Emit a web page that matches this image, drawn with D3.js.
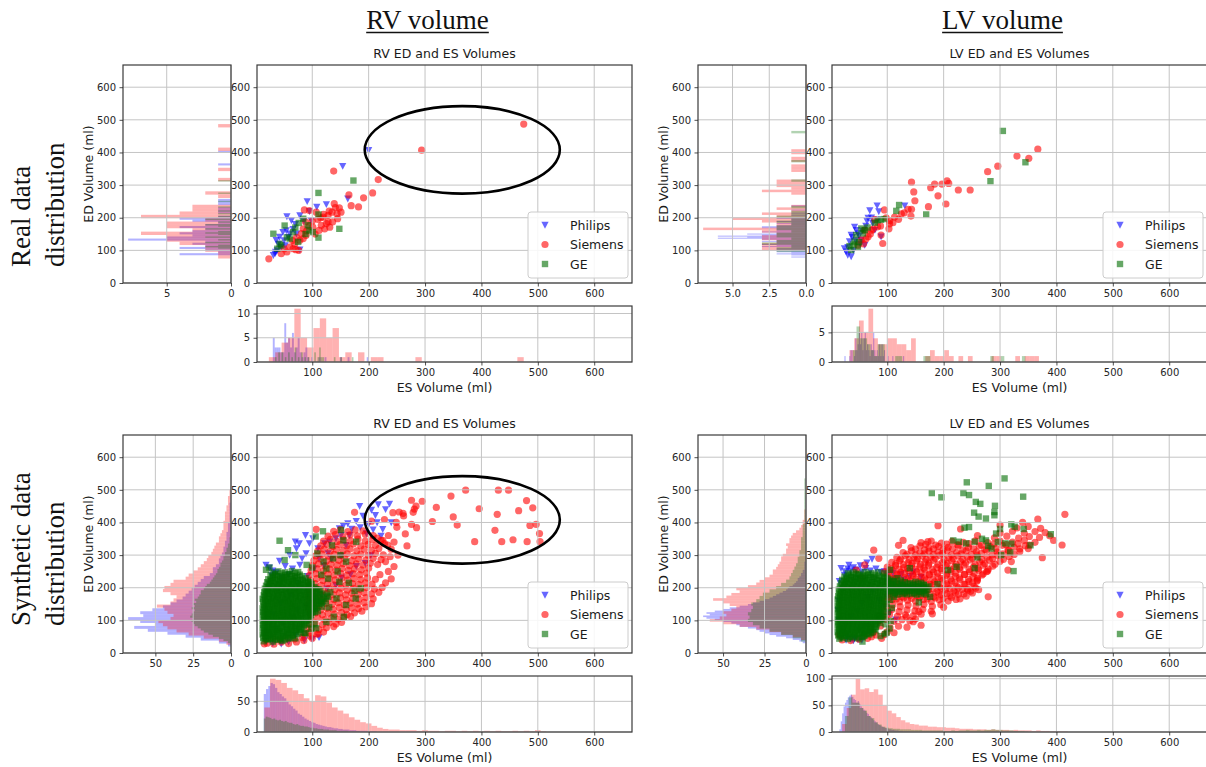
<!DOCTYPE html>
<html>
<head>
<meta charset="utf-8">
<script src="https://cdn.jsdelivr.net/npm/d3@7"></script>
<style>
  body { margin: 0; background: #fff; }
</style>
</head>
<body>
<script>

// ---------- data: scatter points [ES volume, ED volume] ----------

var rvRealPhilips = [[154,358],[125,241],[108,233],[91,250],[95,220],[78,207],[55,204],[163,258],[63,192],[54,161],[42,141],[36,131],[34,90],[31,85],[78,102],[60,151],[48,156],[200,407],[98,192],[72,151],[40,120],[45,110],[50,130],[58,140],[66,165],[70,180],[85,190],[35,95],[38,100],[52,115]]
var rvRealSiemens = [[138,343],[217,317],[207,276],[191,261],[165,270],[169,237],[182,233],[23,74],[45,90],[139,243],[141,231],[151,217],[144,212],[135,217],[128,207],[119,202],[128,187],[136,187],[145,197],[122,166],[112,161],[116,177],[107,217],[95,222],[86,224],[88,187],[84,166],[81,151],[78,131],[69,120],[66,105],[71,102],[76,100],[84,136],[89,146],[101,171],[131,171],[125,182],[294,407],[475,487],[120,210],[110,195],[100,190],[95,175],[60,110],[55,95],[50,105],[65,130],[72,140],[90,160],[105,150],[115,200],[130,220],[148,230]]
var rvRealGE = [[173,314],[111,276],[148,166],[111,139],[51,176],[31,151],[111,210],[76,184],[92,177],[66,156],[45,115],[38,105],[95,161],[60,136],[84,197],[101,156],[75,126],[55,140],[70,170],[88,150],[42,120]]

var lvRealPhilips = [[82,237],[69,222],[85,219],[131,237],[66,199],[74,183],[83,194],[45,162],[36,147],[48,152],[33,127],[54,132],[60,116],[24,106],[30,86],[36,81],[27,96],[42,172],[78,162],[89,142],[38,140],[44,130],[50,145],[56,160],[62,175],[30,110],[40,100],[52,120],[64,190],[72,200]]
var lvRealSiemens = [[367,410],[351,382],[330,389],[296,358],[278,341],[247,285],[226,285],[206,313],[209,305],[197,303],[184,303],[177,292],[190,267],[204,242],[173,234],[143,309],[147,279],[149,252],[143,226],[142,205],[137,226],[125,212],[113,202],[104,191],[103,166],[92,121],[95,224],[104,181],[89,147],[78,194],[72,162],[60,162],[83,172],[66,142],[54,132],[48,116],[98,200],[88,175],[70,150],[62,135],[110,185],[120,195],[130,215],[58,120],[75,165]]
var lvRealGE = [[305,466],[345,370],[283,312],[169,210],[121,239],[116,221],[89,194],[83,192],[60,162],[54,167],[45,147],[42,127],[33,113],[36,101],[48,111],[57,152],[50,125],[65,170],[40,118],[78,185],[95,196]]

var rvSynPhilips = [[237,457],[217,455],[184,450],[205,438],[212,422],[178,404],[163,397],[155,390],[148,382],[225,379],[222,359],[196,366],[166,361],[88,361],[70,341],[77,336],[95,336],[101,351],[89,305],[72,320],[24,261],[36,247],[86,40],[70,55],[30,30],[18,35],[151,361],[142,351],[131,341],[122,336],[200,395],[190,420],[230,440],[215,400],[160,330],[110,320],[60,300],[42,282],[52,266],[30,252],[18,270],[28,238],[45,232],[65,258],[82,290],[112,290],[128,305],[170,380],[185,385],[208,378],[240,400],[58,34],[45,28],[100,42],[112,48],[78,270],[58,240],
  [20,62],[36,74],[47,95],[63,108],[74,131],[89,143],[100,163],[116,176],[126,197],[142,207],[152,231],[168,241],[178,266],[194,275],[204,299],[31,118],[44,153],[61,177],[74,213],[92,235],[103,258],[121,268],[134,288],[151,297]]
var rvSynSiemens = [[20,30],[32,27],[45,33],[58,29],[72,34],[85,38],[18,44],[30,47],[42,42],[55,46],[68,43],[82,48],[96,52],[15,28],[100,45],[110,58],
  [85,58],[95,63],[108,59],[120,64],[90,74],[100,78],[112,72],[125,77],[138,81],[95,88],[105,92],[118,87],[130,93],[142,89],[152,94],
  [98,103],[110,108],[122,102],[134,107],[146,104],[156,109],[168,112],[96,118],[106,123],[118,117],[128,122],[140,119],[152,124],[162,118],[175,123],[188,128],
  [94,133],[104,138],[115,132],[126,137],[137,134],[148,139],[160,133],[170,138],[182,136],[195,141],[92,148],[102,153],[113,147],[124,152],[135,149],[146,154],[157,148],[168,153],[180,150],[192,155],[205,151],
  [95,163],[106,168],[117,162],[128,167],[139,164],[150,169],[161,163],[172,168],[183,165],[195,170],[208,166],[93,178],[104,183],[115,177],[126,182],[137,179],[148,184],[159,178],[170,183],[181,180],[192,185],[205,181],[218,186],
  [96,193],[107,198],[118,192],[129,197],[140,194],[151,199],[162,193],[173,198],[184,195],[196,200],[210,196],[224,201],[94,208],[105,213],[116,207],[127,212],[138,209],[149,214],[160,208],[171,213],[182,210],[194,215],[206,211],
  [97,223],[108,228],[119,222],[130,227],[141,224],[152,229],[163,223],[174,228],[186,225],[198,230],[212,226],[240,227],[95,238],[106,243],[117,237],[128,242],[139,239],[150,244],[161,238],[172,243],[184,240],[196,245],
  [98,253],[109,258],[120,252],[131,257],[142,254],[153,259],[164,253],[175,258],[187,255],[200,260],[100,268],[111,273],[122,267],[133,272],[144,269],[155,274],[166,268],[178,273],[190,270],[203,275],[216,271],
  [103,283],[114,288],[125,282],[136,287],[147,284],[158,289],[170,283],[182,288],[195,285],[208,290],[222,286],[106,298],[117,303],[128,297],[139,302],[150,299],[162,304],[174,298],[186,303],[199,300],[212,305],[226,301],
  [110,313],[121,318],[132,312],[143,317],[155,314],[167,319],[179,313],[192,318],[205,315],[218,320],[115,328],[126,333],[137,327],[149,332],[161,329],[173,334],[186,328],[199,333],[212,330],[228,335],
  [120,343],[132,348],[144,342],[156,347],[168,344],[181,349],[194,343],[207,348],[222,345],[128,358],[141,363],[154,357],[167,362],[180,359],[194,364],[208,360],[138,373],[150,378],[163,372],[176,377],[190,374],
  [372,499],[430,499],[448,499],[346,481],[276,468],[295,465],[480,467],[284,450],[281,441],[320,446],[279,431],[396,442],[466,436],[491,445],[428,425],[350,417],[254,432],[261,428],[243,430],[228,409],[249,400],[276,394],[285,384],[313,403],[357,392],[486,391],[497,394],[503,366],[424,376],[388,341],[436,341],[456,347],[481,341],[504,341],[268,328],[234,331],[205,404],[175,431],[107,379],[238,295],[262,420],[250,385],[235,360],[225,345],[265,365],[240,318],[215,352],[245,340],[252,300],[230,280],[245,265],[235,250],[230,215],[220,240]]
var rvSynGE = [[14,36],[21,41],[30,35],[39,40],[47,37],[13,47],[19,51],[27,45],[35,50],[44,46],[53,52],[61,47],
  [12,57],[18,61],[25,55],[33,59],[41,62],[49,56],[58,60],[66,55],[74,59],[14,66],[20,70],[28,65],[36,71],[43,67],[51,64],[60,70],[68,66],[77,71],
  [12,77],[19,80],[26,75],[34,79],[42,76],[50,81],[57,74],[65,79],[73,77],[82,80],[13,86],[21,90],[29,85],[37,89],[45,92],[53,86],[61,90],[70,84],[78,89],[86,87],
  [12,97],[18,100],[26,95],[33,99],[41,102],[49,96],[57,100],[64,95],[72,101],[80,97],[89,99],[14,106],[21,110],[28,105],[36,109],[44,112],[52,106],[60,110],[67,104],[75,109],[83,107],[92,111],
  [12,117],[19,120],[27,115],[35,119],[42,122],[50,116],[58,121],[66,114],[74,119],[81,117],[90,121],[98,116],[13,126],[20,130],[28,125],[37,129],[45,132],[52,126],[60,130],[68,124],[76,129],[85,127],[93,131],[101,125],
  [12,137],[18,140],[26,135],[34,139],[42,142],[51,136],[59,140],[66,134],[74,139],[83,137],[91,141],[99,135],[108,139],[14,146],[21,150],[29,145],[37,149],[45,152],[53,146],[61,150],[69,144],[77,149],[86,147],[94,151],[103,145],[112,150],
  [13,157],[19,160],[27,155],[35,159],[43,162],[51,156],[58,160],[66,154],[75,159],[83,157],[91,161],[100,155],[109,160],[118,156],[12,166],[20,170],[28,165],[36,169],[44,172],[52,166],[60,170],[68,164],[76,169],[84,167],[93,171],[101,165],[110,170],[121,166],
  [14,177],[22,180],[30,175],[38,179],[46,182],[54,176],[62,180],[70,174],[78,179],[87,177],[95,181],[104,175],[113,180],[126,176],[15,186],[21,190],[29,185],[37,189],[45,192],[53,186],[61,190],[69,184],[77,189],[85,187],[94,191],[102,185],[114,190],[132,186],
  [16,197],[23,200],[31,195],[39,199],[47,202],[55,196],[63,200],[71,194],[79,199],[88,197],[96,201],[107,195],[18,206],[25,210],[33,205],[41,209],[49,212],[57,206],[65,210],[73,204],[81,209],[90,207],[99,211],
  [20,217],[27,220],[35,215],[43,219],[51,222],[59,216],[67,220],[75,214],[84,219],[93,217],[22,226],[30,230],[38,225],[46,229],[54,232],[62,226],[70,230],[79,224],[88,229],
  [26,237],[34,240],[43,235],[51,239],[60,242],[69,236],[78,240],[30,246],[40,250],[52,247],[64,251],[75,248],
  [42,344],[57,315],[51,285],[24,262],[18,255],[119,373],[106,357],[151,377],[178,341],[137,290],[109,305],[177,167],[156,111],[138,111],[107,76],[96,88],[143,167],[160,147],[148,218],[125,259],[120,280],[90,270],[70,300],[135,330],[160,280],[145,250],[175,190],[130,140],[125,95],[88,60],[70,45],[155,345],[116,240],[165,215],[186,198],[150,300],[100,262],[128,228]]
var rvSynGECore = [[17,43],[25,44],[34,42],[43,44],[51,41],[58,44],[16,53],[23,55],[31,52],[39,54],[48,51],[57,55],[65,52],
  [15,62],[22,64],[30,61],[38,65],[46,60],[55,63],[63,62],[71,65],[79,63],[16,72],[24,74],[31,70],[39,73],[47,75],[55,71],[63,74],[71,72],[80,75],
  [15,82],[23,84],[30,81],[38,85],[46,80],[54,83],[62,82],[69,85],[77,81],[85,84],[16,93],[24,95],[32,91],[40,94],[48,96],[56,92],[65,94],[73,91],[82,95],[90,92],
  [15,102],[22,104],[30,101],[37,105],[45,100],[53,103],[61,102],[68,105],[76,101],[85,104],[95,102],[16,113],[24,115],[32,111],[40,114],[48,116],[56,112],[64,115],[71,111],[79,114],[88,116],[96,112],
  [15,122],[23,124],[31,121],[39,125],[47,120],[55,123],[63,122],[71,125],[79,121],[88,124],[97,122],[105,125],[16,133],[24,135],[32,131],[41,134],[48,136],[56,132],[64,135],[72,131],[80,134],[89,136],[97,132],[105,135],
  [15,142],[22,144],[30,141],[38,145],[47,140],[55,143],[63,142],[70,145],[79,141],[88,144],[96,142],[107,145],[17,153],[25,155],[33,151],[41,154],[49,156],[57,152],[65,155],[73,151],[81,154],[90,156],[98,152],[107,155],[116,152],
  [16,162],[23,164],[31,161],[39,165],[47,160],[55,163],[62,162],[71,165],[79,161],[87,164],[96,162],[105,165],[114,161],[16,173],[24,175],[32,171],[40,174],[48,176],[56,172],[64,175],[72,171],[80,174],[89,176],[97,172],[107,175],[117,171],
  [18,182],[25,184],[33,181],[41,185],[49,180],[57,183],[65,182],[73,185],[81,181],[90,184],[98,182],[108,185],[120,182],[19,193],[27,195],[35,191],[43,194],[51,196],[59,192],[67,195],[75,191],[83,194],[92,196],[101,192],[111,195],
  [21,202],[29,204],[37,201],[45,205],[53,200],[61,203],[69,202],[77,205],[85,201],[94,204],[104,202],[23,213],[31,215],[39,211],[47,214],[55,216],[63,212],[71,215],[79,211],[88,214],[97,216],
  [26,222],[34,224],[42,221],[50,225],[58,220],[66,223],[74,222],[83,225],[92,221],[30,233],[38,235],[47,231],[55,234],[64,236],[73,232],[82,235],[35,242],[46,244],[58,241],[70,245],
  [110,128],[118,142],[104,88],[98,74],[86,62],[124,160],[128,172]]

var lvSynPhilips = [[24,239],[64,277],[73,288],[20,193],[18,45],[27,40],[36,42],[146,249],[30,60],[40,38],[48,41],[22,70],[14,100],[13,130],[14,160],[25,250],[35,252],[45,255],[55,249],[15,220],[62,260],[80,258],[95,250],[110,246],[125,242],[140,235],[160,232],[40,262],[52,268],[30,258],[70,252],[88,248],[100,240],[18,260],[32,270],[115,230],[130,225],
  [25,90],[36,112],[47,128],[55,152],[66,171],[74,188],[86,161],[95,142],[104,121],[115,102],[60,82],[70,62],[50,70],[100,172],[55,40],[42,45],[30,48]]
var lvSynSiemens = [[20,40],[35,38],[50,42],[65,45],[80,55],[15,55],[100,65],[90,45],
  [60,58],[75,63],[95,57],[112,62],[70,78],[88,83],[105,77],[120,82],[135,79],[85,98],[98,103],[112,97],[126,102],[140,99],[150,104],[92,113],[104,118],[118,112],[132,117],[146,114],[160,119],
  [95,128],[108,133],[121,127],[135,132],[149,129],[163,134],[178,128],[98,143],[110,148],[123,142],[137,147],[151,144],[165,149],[180,143],[195,148],
  [96,158],[109,163],[122,157],[136,162],[150,159],[164,164],[178,158],[192,163],[208,159],[222,164],[100,173],[113,178],[126,172],[140,177],[154,174],[168,179],[182,173],[196,178],[211,175],[226,180],[240,174],
  [104,188],[117,193],[131,187],[145,192],[159,189],[173,194],[188,188],[203,193],[218,190],[233,195],[248,189],[262,194],[108,203],[121,208],[135,202],[149,207],[163,204],[178,209],[193,203],[208,208],[223,205],[238,210],[254,204],
  [100,218],[113,223],[127,217],[141,222],[155,219],[169,224],[184,218],[199,223],[214,220],[229,225],[245,219],[260,224],[105,233],[118,238],[132,232],[146,237],[160,234],[175,239],[190,233],[205,238],[221,235],[237,240],[252,234],[268,239],
  [95,248],[110,253],[124,247],[138,252],[152,249],[167,254],[182,248],[197,253],[213,250],[229,255],[246,249],[262,254],[278,251],[100,263],[115,268],[129,262],[143,267],[158,264],[173,269],[188,263],[204,268],[220,265],[236,270],[253,264],[270,269],[287,266],
  [108,278],[122,283],[137,277],[152,282],[167,279],[182,284],[198,278],[214,283],[230,280],[247,285],[264,279],[281,284],[300,281],[117,293],[132,298],[147,292],[162,297],[177,294],[193,299],[209,293],[225,298],[242,295],[259,300],[277,294],[296,299],[316,296],
  [128,308],[143,313],[158,307],[174,312],[190,309],[206,314],[223,308],[240,313],[258,310],[276,315],[295,309],[315,314],[335,311],[142,323],[158,328],[174,322],[191,327],[208,324],[226,329],[244,323],[263,328],[283,325],[304,330],[325,324],[345,329],
  [160,338],[178,343],[196,337],[215,342],[235,339],[256,344],[278,338],[300,343],[322,340],[343,345],[362,339],[290,353],[312,358],[333,352],[352,357],[370,354],[388,359],[300,368],[322,373],[343,367],[362,372],[380,369],[330,383],[350,388],[372,382],
  [415,425],[410,331],[375,292],[367,410],[314,254],[279,172],[276,249],[259,221],[243,193],[190,390],[172,341],[76,315],[45,254],[72,50],[146,96],[156,127],[134,111],[128,345],[300,392],[340,400],[320,280],[350,320],[395,345],[60,270],[85,290],[55,230],[120,330],[230,380],[260,360],[160,85],[180,120],[200,140]]
var lvSynSiemensCore = [[103,168],[116,166],[129,169],[143,167],[157,170],[171,166],[185,169],[199,167],[214,170],[229,166],
  [107,183],[120,181],[134,184],[148,182],[162,185],[176,181],[191,184],[206,182],[221,185],[236,181],[251,184],
  [111,198],[124,196],[138,199],[152,197],[166,200],[181,196],[196,199],[211,197],[226,200],[242,196],[257,199],
  [106,213],[119,211],[133,214],[147,212],[161,215],[175,211],[190,214],[205,212],[220,215],[236,211],[251,214],
  [110,228],[123,226],[137,229],[151,227],[166,230],[181,226],[196,229],[212,227],[228,230],[244,226],[260,229],
  [102,243],[117,241],[131,244],[145,242],[160,245],[174,241],[189,244],[205,242],[221,245],[237,241],[254,244],[270,242],
  [107,258],[121,256],[136,259],[150,257],[165,260],[180,256],[196,259],[212,257],[228,260],[245,256],[261,259],[279,257],
  [115,273],[129,271],[144,274],[159,272],[174,275],[190,271],[206,274],[222,272],[239,275],[256,271],[273,274],[291,272],
  [124,288],[139,286],[154,289],[169,287],[185,290],[201,286],[217,289],[234,287],[251,290],[268,286],[287,289],[306,287],
  [135,303],[150,301],[166,304],[182,302],[198,305],[214,301],[231,304],[249,302],[267,305],[286,301],[305,304],[325,302],
  [150,318],[166,316],[182,319],[199,317],[216,320],[234,316],[253,319],[273,317],[293,320],[314,316],[335,319],
  [168,333],[186,331],[205,334],[225,332],[245,335],[267,331],[289,334],[311,332],[332,335],[352,331]]
var lvSynGE = [[15,44],[22,47],[30,43],[38,48],[47,45],[56,49],[13,54],[20,57],[27,53],[35,58],[43,55],[51,59],[60,54],[68,57],
  [12,64],[19,67],[26,63],[34,68],[42,65],[50,69],[58,63],[66,67],[74,64],[14,74],[21,77],[28,73],[36,78],[44,75],[52,79],[60,73],[68,77],[77,74],
  [12,84],[19,87],[26,83],[33,88],[41,85],[49,89],[57,83],[65,87],[73,84],[81,88],[13,94],[20,97],[28,93],[35,98],[43,95],[51,99],[59,93],[67,97],[75,94],[84,98],
  [12,104],[18,107],[26,103],[33,108],[41,105],[49,109],[57,103],[65,107],[73,104],[82,108],[90,105],[14,114],[21,117],[28,113],[36,118],[44,115],[52,119],[60,113],[68,117],[76,114],[85,118],[93,115],
  [12,124],[19,127],[27,123],[34,128],[42,125],[50,129],[58,123],[66,127],[74,124],[83,128],[91,125],[13,134],[20,137],[28,133],[36,138],[44,135],[52,139],[60,133],[68,137],[76,134],[85,138],[94,135],
  [12,144],[19,147],[27,143],[35,148],[43,145],[51,149],[59,143],[67,147],[75,144],[84,148],[92,145],[14,154],[21,157],[29,153],[37,158],[45,155],[53,159],[61,153],[69,157],[77,154],[86,158],[95,155],
  [12,164],[20,167],[28,163],[36,168],[44,165],[52,169],[60,163],[68,167],[76,164],[85,168],[94,165],[13,174],[21,177],[29,173],[37,178],[45,175],[53,179],[61,173],[69,177],[78,174],[87,178],[96,175],
  [15,184],[22,187],[30,183],[38,188],[46,185],[54,189],[62,183],[70,187],[79,184],[88,188],[97,185],[106,189],[114,184],[122,188],[131,185],[139,189],[148,184],[156,188],[165,185],
  [14,194],[22,197],[30,193],[38,198],[46,195],[54,199],[62,193],[70,197],[79,194],[88,198],[98,195],[108,199],[117,193],[126,197],[135,194],[144,198],[153,195],[162,199],[171,194],
  [16,204],[24,207],[32,203],[40,208],[48,205],[56,209],[64,203],[72,207],[81,204],[90,208],[100,205],[110,209],[119,203],[128,207],[137,204],[146,208],[155,205],[164,209],[173,204],
  [18,214],[26,217],[34,213],[42,218],[50,215],[58,219],[66,213],[74,217],[83,214],[92,218],[102,215],[112,219],[122,213],[131,217],[140,214],[150,218],[160,215],
  [20,224],[28,227],[36,223],[44,228],[52,225],[60,229],[68,223],[77,227],[86,224],[96,228],[106,225],[118,229],[24,234],[32,237],[40,233],[48,238],[57,235],[66,239],[75,233],[85,237],[95,234],
  [30,244],[40,247],[50,243],[61,248],[72,245],[84,247],
  [308,535],[241,523],[280,512],[179,490],[196,477],[235,490],[245,484],[341,479],[257,463],[265,457],[291,451],[254,430],[262,418],[275,412],[290,422],[237,384],[245,386],[320,394],[342,380],[326,387],[390,364],[217,345],[227,341],[240,336],[255,341],[275,345],[296,340],[279,328],[309,336],[320,335],[354,330],[293,366],[285,320],[302,300],[318,308],[260,293],[255,260],[324,251],[208,254],[223,264],[83,116],[56,35],[95,244],[290,432],[300,380],[268,350],[189,211],[156,155],[176,172],[140,260],[105,255]]
var lvSynGECore = [[17,50],[25,52],[33,49],[41,51],[50,50],[59,52],[16,60],[23,62],[31,59],[39,61],[47,60],[55,62],[63,59],[71,61],
  [15,70],[22,72],[30,69],[38,71],[46,70],[54,72],[62,69],[70,71],[79,70],[16,80],[24,82],[31,79],[39,81],[47,80],[55,82],[63,79],[71,81],[80,80],
  [15,90],[23,92],[30,89],[38,91],[46,90],[54,92],[62,89],[70,91],[78,90],[87,92],[16,100],[24,102],[31,99],[39,101],[47,100],[55,102],[63,99],[71,101],[79,100],[88,102],
  [15,110],[22,112],[30,109],[37,111],[45,110],[53,112],[61,109],[69,111],[78,110],[87,112],[95,110],[16,120],[24,122],[32,119],[40,121],[48,120],[56,122],[64,119],[72,121],[80,120],[89,122],
  [15,130],[23,132],[31,129],[38,131],[46,130],[54,132],[62,129],[70,131],[79,130],[88,132],[16,140],[24,142],[32,139],[40,141],[48,140],[56,142],[64,139],[72,141],[81,140],[90,142],
  [15,150],[23,152],[31,149],[39,151],[47,150],[55,152],[63,149],[71,151],[80,150],[89,152],[17,160],[25,162],[33,159],[41,161],[49,160],[57,162],[65,159],[73,161],[82,160],[91,162],
  [16,170],[24,172],[32,169],[40,171],[48,170],[56,172],[64,169],[72,171],[81,170],[90,172],
  [17,180],[25,182],[33,179],[41,181],[49,180],[57,182],[65,179],[74,181],[83,180],[92,182],[101,180],[110,182],[118,179],[127,181],[135,180],[144,182],[152,179],[160,181],[169,180],
  [18,190],[26,192],[34,189],[42,191],[50,190],[58,192],[66,189],[75,191],[84,190],[93,192],[103,190],[112,192],[121,189],[130,191],[140,190],[149,192],[158,189],[167,191],
  [20,200],[28,202],[36,199],[44,201],[52,200],[60,202],[68,199],[77,201],[86,200],[95,202],[105,200],[115,202],[124,199],[133,201],[142,200],[151,202],[160,199],[169,201],
  [22,210],[30,212],[38,209],[46,211],[54,210],[62,212],[70,209],[79,211],[88,210],[97,212],[107,210],[117,212],[126,209],[136,211],[145,210],[155,212],[165,209],
  [24,220],[32,222],[40,219],[48,221],[56,220],[64,222],[73,219],[82,221],[91,220],[101,222],[111,220],[124,222],[28,230],[36,232],[44,229],[52,231],[61,230],[70,232],[80,229],[90,231],[100,230],
  [35,240],[45,242],[56,239],[67,241],[78,240],
  [99,62],[104,75],[97,88],[106,98],[101,126],[108,138],[99,150],[105,163],[112,172],[96,58],[88,52]]

// ---------- data: histograms (first bin start, bin width, counts) ----------

var rvRealEdPhilips = { start: 85, width: 6.4, counts: [4,1,2,4,2,3,2,8,5,3, 4,3,2,4,2,1,3,4,1,0, 1,1,1,0,1,1,1,0,0,0, 0,0,0,0,0,0,0,0,0,0, 0,0,0,1,0,0,0,0,0,1] }
var rvRealEdSiemens = { start: 75, width: 10.3, counts: [1,1,2,2,4,5,5,7,3,5, 5,2,7,4,3,3,0,0,1,2, 0,0,0,1,0,0,1,0,0,0, 0,0,1,0,0,0,0,0,0,1] }
var rvRealEdGE = { start: 105, width: 4.2, counts: [1,2,1,0,2,0,1,0,2,0, 1,2,1,0,2,0,1,2,0,1, 0,2,0,1,0,1,0,1,0,0, 1,0,0,0,1,0,0,0,0,0, 1,0,0,0,0,0,0,0,0,1] }
var rvRealEsPhilips = { start: 30, width: 3.4, counts: [5,3,3,3,2,2,8,4,5,3, 6,2,3,5,2,1,2,3,1,0, 1,0,0,0,1,0,0,1,0,0, 0,0,0,0,0,1,0,0,0,1, 0,0,0,0,0,0,0,0,0,1] }
var rvRealEsSiemens = { start: 23, width: 11.3, counts: [1,2,4,5,11,5,3,7,9,5, 7,1,2,0,2,0,1,1,0,0, 0,0,0,1,0,0,0,0,0,0, 0,0,0,0,0,0,0,0,0,1] }
var rvRealEsGE = { start: 31, width: 2.9, counts: [0,1,0,2,0,2,0,1,0,2, 0,1,0,3,0,1,0,2,0,1, 0,1,0,0,0,2,0,1,3,1, 1,0,0,0,0,0,0,1,0,0, 0,1,0,0,0,0,0,0,1,0] }

var lvRealEdPhilips = { start: 78, width: 3.2, counts: [1,0,1,2,1,2,1,2,2,1, 3,2,3,2,2,3,2,3,6,4, 6,3,4,2,3,2,2,2,3,3, 2,1,2,1,2,1,1,2,1,0, 1,0,1,0,0,1,0,0,0,1] }
var lvRealEdSiemens = { start: 100, width: 7.75, counts: [3,3,3,2,3,3,2,3,7,2, 2,3,5,2,3,1,2,1,0,0, 0,0,1,3,1,2,2,2,0,0, 0,1,1,1,0,1,1,0,1,1] }
var lvRealEdGE = { start: 95, width: 7.42, counts: [2,2,1,3,2,1,2,2,1,2, 2,1,2,1,2,1,1,0,1,0, 0,0,0,0,0,0,0,0,0,1, 0,0,0,0,0,0,0,1,0,0, 0,0,0,0,0,0,0,0,0,1] }
var lvRealEsPhilips = { start: 24, width: 2.12, counts: [1,0,0,0,1,2,2,0,1,4, 2,3,5,3,5,2,4,5,2,3, 2,1,3,2,5,2,1,2,1,3, 1,3,1,2,0,0,1,0,0,0, 1,0,0,0,0,0,0,0,0,1] }
var lvRealEsSiemens = { start: 33, width: 8.4, counts: [2,4,7,5,9,4,3,3,4,4, 3,3,2,4,0,0,1,2,1,1, 2,1,0,1,0,1,0,0,0,0, 1,1,0,0,0,1,0,1,1,1] }
var lvRealEsGE = { start: 33, width: 6.24, counts: [0,2,6,4,4,3,2,1,3,3, 0,0,0,1,1,0,0,0,0,0, 0,1,1,0,0,0,0,0,0,0, 0,0,0,0,0,0,0,0,0,0, 1,0,0,1,0,0,0,0,0,1] }

var rvSynEdPhilips = { start: 20, width: 9, counts: [2,8,20,30,42,55,64,50,60,68, 58,60,52,45,40,36,32,30,28,26, 24,22,20,18,14,12,12,10,8,8, 7,6,5,5,4,4,3,3,3,2, 2,2,1,1,1,1,1,1,1,0] }
var rvSynEdSiemens = { start: 25, width: 9.5, counts: [3,8,18,28,36,42,45,48,40,38, 42,44,49,40,38,36,40,45,44,40, 38,30,28,25,22,20,18,16,15,13, 12,11,10,8,8,7,6,5,5,5, 4,4,4,3,3,2,2,2,1,1] }
var rvSynEdGE = { start: 30, width: 6.5, counts: [2,5,8,12,15,18,20,22,24,25, 26,25,27,26,25,24,26,24,25,23, 24,22,21,20,20,18,17,16,14,13, 12,11,10,9,9,8,7,7,6,5, 5,4,4,3,3,2,2,1,1,1] }
var rvSynEsPhilips = { start: 14, width: 4, counts: [62,70,75,80,78,72,65,62,58,55, 50,45,42,38,35,30,28,25,22,20, 18,16,15,13,12,11,10,9,8,8, 7,6,6,5,5,4,4,4,3,3, 3,2,2,2,2,2,1,1,1,1] }
var rvSynEsSiemens = { start: 15, width: 10, counts: [40,87,85,80,72,68,62,55,50,60, 58,48,40,35,30,24,20,16,14,10, 7,5,4,4,3,3,3,2,3,2, 2,1,2,2,1,2,1,2,1,2, 1,2,1,1,2,1,2,1,3,1] }
var rvSynEsGE = { start: 14, width: 3.4, counts: [22,25,24,23,21,22,20,19,20,18, 17,18,16,15,15,13,12,13,11,10, 10,9,9,8,7,7,6,6,5,5, 5,4,4,4,3,3,3,3,2,2, 2,2,2,2,1,1,1,1,1,1] }

var lvSynEdPhilips = { start: 30, width: 5, counts: [2,4,8,12,18,22,25,28,30,35, 40,42,45,50,55,60,62,58,60,55, 50,46,40,35,32,28,25,22,20,18, 16,14,12,11,10,8,7,6,5,5, 4,3,3,2,2,1,1,1,1,1] }
var lvSynEdSiemens = { start: 40, width: 8, counts: [3,8,15,22,30,40,50,58,52,48, 50,45,42,46,50,56,48,45,40,42, 35,30,28,25,22,20,20,18,17,16, 15,15,14,12,12,11,12,10,10,9, 8,6,4,3,2,2,1,1,1,1] }
var lvSynEdGE = { start: 35, width: 10, counts: [3,8,15,22,28,32,35,34,35,33, 32,33,30,28,26,22,18,15,12,10, 9,8,7,6,5,5,4,4,3,3, 3,3,2,2,2,2,1,1,1,1, 1,1,1,1,1,1,1,1,1,1] }
var lvSynEsPhilips = { start: 15, width: 2.5, counts: [5,20,35,48,55,60,65,68,70,66, 62,60,55,58,52,48,45,42,40,36, 34,30,28,25,22,20,18,15,13,12, 10,9,8,7,6,5,5,4,4,3, 3,3,2,2,2,1,1,1,1,1] }
var lvSynEsSiemens = { start: 20, width: 8, counts: [15,45,70,100,80,82,75,80,70,50, 40,35,28,22,18,15,14,12,12,10, 10,9,9,8,8,7,6,6,6,5, 5,5,4,5,4,4,4,3,4,3, 3,3,2,3,2,2,1,1,1,1] }
var lvSynEsGE = { start: 25, width: 6.5, counts: [30,65,55,55,45,40,30,26,18,14, 10,8,7,6,6,5,5,5,4,4, 4,3,3,3,3,3,3,2,2,3, 2,3,3,4,3,3,4,3,4,4, 5,4,4,3,3,3,2,2,2,1] }

// ---------- labels, ticks ----------

var vendors = ['Philips', 'Siemens', 'GE']
var volumeTicks = [100, 200, 300, 400, 500, 600]
var edTicks = [0, 100, 200, 300, 400, 500, 600]
var esDomain = [2, 667]
var edDomain = [0, 668]
var rvEllipse = [366, 408, 173, 134]   // cx, cy, rx, ry in ml

// ---------- style ----------

var W = 1206, H = 767
var FONT = '"DejaVu Sans", sans-serif'
var SERIF = '"Liberation Serif", "Times New Roman", serif'
var vendorColors = ['#0000ff', '#ff0000', '#006c00']
var markerPaths = [
  'M-3.6,-3.2L3.6,-3.2L0,3.7Z',
  d3.symbol(d3.symbolCircle, Math.PI * 3.6 * 3.6)(),
  'M-3.2,-3.2h6.4v6.4h-6.4Z'
]
var markerAlpha = 0.6
var GRID = '#c4c4c4'

var svg = d3.select('body').append('svg')
  .attr('width', W)
  .attr('height', H)
  .style('display', 'block')

svg.append('rect').attr('width', W).attr('height', H).attr('fill', '#fff')

function toBins(h) {
  return h.counts.map(function(n, i) {
    return { lo: h.start + i * h.width, hi: h.start + (i + 1) * h.width, n: n }
  })
}

function styleAxis(sel) {
  sel.attr('font-size', null).attr('font-family', null)
  sel.select('.domain').remove()
  sel.selectAll('line').attr('stroke', '#222').attr('stroke-width', 0.8)
  sel.selectAll('text')
    .attr('fill', '#262626')
    .style('font-size', '10px')
    .style('font-family', FONT)
}

function frame(g, x0, y0, x1, y1) {
  g.append('rect')
    .attr('x', x0).attr('y', y0)
    .attr('width', x1 - x0).attr('height', y1 - y0)
    .attr('fill', 'none')
    .attr('stroke', '#3a3a3a')
    .attr('stroke-width', 1.2)
}

function gridLines(g, xs, ys, x0, y0, x1, y1) {
  xs.forEach(function(v) {
    g.append('line').attr('x1', v).attr('x2', v).attr('y1', y0).attr('y2', y1)
      .attr('stroke', GRID).attr('stroke-width', 1)
  })
  ys.forEach(function(v) {
    g.append('line').attr('x1', x0).attr('x2', x1).attr('y1', v).attr('y2', v)
      .attr('stroke', GRID).attr('stroke-width', 1)
  })
}

function drawPanel(p) {

  var g = svg.append('g').attr('transform', 'translate(' + p.dx + ',' + p.dy + ')')

  var x = d3.scaleLinear().domain(esDomain).range([257, 632])
  var y = d3.scaleLinear().domain(edDomain).range([283, 65])

  var edBins = p.ed.map(toBins)
  var esBins = p.es.map(toBins)
  var edMax = d3.max(edBins, function(b) { return d3.max(b, function(d) { return d.n }) })
  var esMax = d3.max(esBins, function(b) { return d3.max(b, function(d) { return d.n }) })

  var hx = d3.scaleLinear().domain([edMax * 1.05, 0]).range([123, 231])
  var hy = d3.scaleLinear().domain([0, esMax * 1.05]).range([362, 306])

  // left histogram (ED)
  var gl = g.append('g')
  edBins.forEach(function(bins, k) {
    gl.selectAll(null).data(bins.filter(function(d) { return d.n > 0 })).enter().append('rect')
      .attr('x', function(d) { return hx(d.n) })
      .attr('width', function(d) { return hx(0) - hx(d.n) })
      .attr('y', function(d) { return y(d.hi) })
      .attr('height', function(d) { return y(d.lo) - y(d.hi) })
      .attr('fill', vendorColors[k])
      .attr('fill-opacity', 0.3)
  })
  gridLines(gl, p.edCountTicks.map(hx), edTicks.map(y), 123, 65, 231, 283)
  frame(gl, 123, 65, 231, 283)

  gl.append('g').attr('transform', 'translate(123,0)')
    .call(d3.axisLeft(y).tickValues(edTicks).tickSize(3.5).tickPadding(3.5))
    .call(styleAxis)
  gl.append('g').attr('transform', 'translate(0,283)')
    .call(d3.axisBottom(hx).tickValues(p.edCountTicks).tickSize(3.5).tickPadding(3.5).tickFormat(d3.format(p.countFormat)))
    .call(styleAxis)

  g.append('text')
    .attr('transform', 'translate(93,174) rotate(-90)')
    .attr('text-anchor', 'middle')
    .style('font-family', FONT)
    .style('font-size', '12.5px')
    .attr('fill', '#1a1a1a')
    .text('ED Volume (ml)')

  // scatter
  var gs = g.append('g')
  p.points.forEach(function(pts, k) {
    gs.selectAll(null).data(pts).enter().append('path')
      .attr('d', markerPaths[k])
      .attr('transform', function(d) { return 'translate(' + x(d[0]) + ',' + y(d[1]) + ')' })
      .attr('fill', vendorColors[k])
      .attr('fill-opacity', markerAlpha)
  })
  gridLines(gs, volumeTicks.map(x), edTicks.map(y), 257, 65, 632, 283)

  if (p.ellipse) {
    gs.append('ellipse')
      .attr('cx', x(p.ellipse[0]))
      .attr('cy', y(p.ellipse[1]))
      .attr('rx', x(p.ellipse[0] + p.ellipse[2]) - x(p.ellipse[0]))
      .attr('ry', y(p.ellipse[1]) - y(p.ellipse[1] + p.ellipse[3]))
      .attr('fill', 'none')
      .attr('stroke', '#000')
      .attr('stroke-width', 2.6)
  }

  // legend
  var lg = gs.append('g').attr('transform', 'translate(528,212)')
  lg.append('rect')
    .attr('width', 100).attr('height', 66).attr('rx', 3)
    .attr('fill', '#fff').attr('fill-opacity', 0.85)
    .attr('stroke', '#cccccc')
  vendors.forEach(function(v, k) {
    var row = lg.append('g').attr('transform', 'translate(0,' + (13 + k * 19.5) + ')')
    row.append('path')
      .attr('d', markerPaths[k])
      .attr('transform', 'translate(17,0)')
      .attr('fill', vendorColors[k])
      .attr('fill-opacity', markerAlpha)
    row.append('text')
      .attr('x', 42).attr('y', 4.5)
      .style('font-family', FONT)
      .style('font-size', '12.5px')
      .attr('fill', '#1a1a1a')
      .text(v)
  })

  frame(gs, 257, 65, 632, 283)
  gs.append('g').attr('transform', 'translate(257,0)')
    .call(d3.axisLeft(y).tickValues(edTicks).tickSize(3.5).tickPadding(3.5))
    .call(styleAxis)
  gs.append('g').attr('transform', 'translate(0,283)')
    .call(d3.axisBottom(x).tickValues(volumeTicks).tickSize(3.5).tickPadding(3.5))
    .call(styleAxis)

  g.append('text')
    .attr('x', 444.5).attr('y', 58)
    .attr('text-anchor', 'middle')
    .style('font-family', FONT)
    .style('font-size', '12.5px')
    .attr('fill', '#1a1a1a')
    .text(p.title)

  // bottom histogram (ES)
  var gb = g.append('g')
  esBins.forEach(function(bins, k) {
    gb.selectAll(null).data(bins.filter(function(d) { return d.n > 0 })).enter().append('rect')
      .attr('x', function(d) { return x(d.lo) })
      .attr('width', function(d) { return x(d.hi) - x(d.lo) })
      .attr('y', function(d) { return hy(d.n) })
      .attr('height', function(d) { return hy(0) - hy(d.n) })
      .attr('fill', vendorColors[k])
      .attr('fill-opacity', 0.3)
  })
  gridLines(gb, volumeTicks.map(x), p.esCountTicks.map(hy), 257, 306, 632, 362)
  frame(gb, 257, 306, 632, 362)
  gb.append('g').attr('transform', 'translate(257,0)')
    .call(d3.axisLeft(hy).tickValues(p.esCountTicks).tickSize(3.5).tickPadding(3.5))
    .call(styleAxis)
  gb.append('g').attr('transform', 'translate(0,362)')
    .call(d3.axisBottom(x).tickValues(volumeTicks).tickSize(3.5).tickPadding(3.5))
    .call(styleAxis)

  g.append('text')
    .attr('x', 444.5).attr('y', 392)
    .attr('text-anchor', 'middle')
    .style('font-family', FONT)
    .style('font-size', '12.5px')
    .attr('fill', '#1a1a1a')
    .text('ES Volume (ml)')
}

var panels = [
  { dx: 0, dy: 0, title: 'RV ED and ES Volumes',
    points: [rvRealPhilips, rvRealSiemens, rvRealGE],
    ed: [rvRealEdPhilips, rvRealEdSiemens, rvRealEdGE],
    es: [rvRealEsPhilips, rvRealEsSiemens, rvRealEsGE],
    edCountTicks: [0, 5], esCountTicks: [0, 5, 10], countFormat: 'd', ellipse: rvEllipse },
  { dx: 575, dy: 0, title: 'LV ED and ES Volumes',
    points: [lvRealPhilips, lvRealSiemens, lvRealGE],
    ed: [lvRealEdPhilips, lvRealEdSiemens, lvRealEdGE],
    es: [lvRealEsPhilips, lvRealEsSiemens, lvRealEsGE],
    edCountTicks: [0, 2.5, 5], esCountTicks: [0, 5], countFormat: '.1f', ellipse: null },
  { dx: 0, dy: 370, title: 'RV ED and ES Volumes',
    points: [rvSynPhilips, rvSynSiemens, rvSynGE.concat(rvSynGECore)],
    ed: [rvSynEdPhilips, rvSynEdSiemens, rvSynEdGE],
    es: [rvSynEsPhilips, rvSynEsSiemens, rvSynEsGE],
    edCountTicks: [0, 25, 50], esCountTicks: [0, 50], countFormat: 'd', ellipse: rvEllipse },
  { dx: 575, dy: 370, title: 'LV ED and ES Volumes',
    points: [lvSynPhilips, lvSynSiemens.concat(lvSynSiemensCore), lvSynGE.concat(lvSynGECore)],
    ed: [lvSynEdPhilips, lvSynEdSiemens, lvSynEdGE],
    es: [lvSynEsPhilips, lvSynEsSiemens, lvSynEsGE],
    edCountTicks: [0, 25, 50], esCountTicks: [0, 50, 100], countFormat: 'd', ellipse: null }
]

panels.forEach(drawPanel)

// column headings (underlined, serif)
;[['RV volume', 427.5], ['LV volume', 1002.5]].forEach(function(h) {
  var t = svg.append('text')
    .attr('x', h[1]).attr('y', 29)
    .attr('text-anchor', 'middle')
    .style('font-family', SERIF)
    .style('font-size', '27px')
    .attr('fill', '#111')
    .text(h[0])
  var w = t.node().getComputedTextLength()
  svg.append('line')
    .attr('x1', h[1] - w / 2).attr('x2', h[1] + w / 2)
    .attr('y1', 32.5).attr('y2', 32.5)
    .attr('stroke', '#111').attr('stroke-width', 1.3)
})

// row headings (rotated, serif)
;[[['Real data', 'distribution'], 267], [['Synthetic data', 'distribution'], 626]].forEach(function(r) {
  r[0].forEach(function(line, i) {
    svg.append('text')
      .attr('transform', 'translate(' + (30 + i * 34) + ',' + r[1] + ') rotate(-90)')
      .attr('text-anchor', 'start')
      .style('font-family', SERIF)
      .style('font-size', '27px')
      .attr('fill', '#111')
      .text(line)
  })
})

</script>
</body>
</html>
